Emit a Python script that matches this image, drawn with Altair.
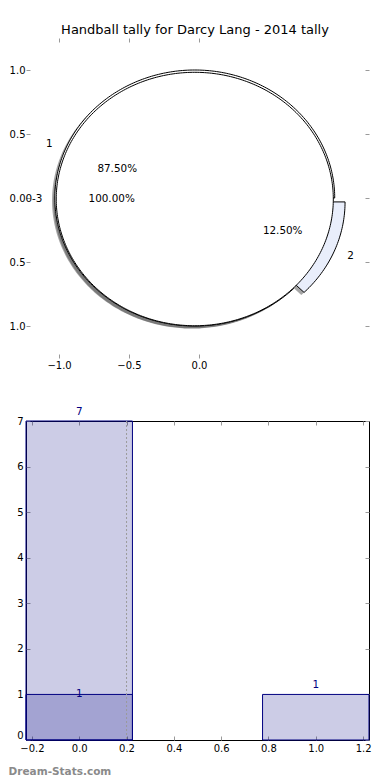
import altair as alt
import numpy as np
import pandas as pd

# ---------------- data ----------------
TITLE = "Handball tally for Darcy Lang - 2014 tally"
WATERMARK = "Dream-Stats.com"

outer_labels = ["1", "2"]
outer_counts = [7, 1]
inner_labels = ["0-3"]
inner_counts = [8]

hist_bins = [0, 1]
hist_counts = [7, 1]
overlay_bins = [0]
overlay_counts = [1]
marker_line = [0.2]

pie_x_ticks = [-1.0, -0.5, 0.0]
pie_y_ticks = [-1.0, -0.5, 0.0, 0.5, 1.0]
bar_x_ticks = [-0.2, 0.0, 0.2, 0.4, 0.6, 0.8, 1.0, 1.2]
bar_y_ticks = [0, 1, 2, 3, 4, 5, 6, 7]

# ---------------- style / geometry ----------------
FONT = "DejaVu Sans"
FS = 10.4          # text inside the plots
AFS = 10           # axis tick labels
NAVY = "#000080"
TICK = "#9a9a9a"
OUTER_FILLS = ["white", "#e9eefb"]
INNER_FILL = "white"
CENTER = (-0.03, 0.0)
INNER_SHIFT = (0.0, -0.008)
R_OUTER = 1.0
R_INNER = 0.99
EXPLODE = [0.0, 0.08]
SHADOW_OFF = (-0.02, -0.02)
LABEL_DIST = 1.1
PCT_DIST = 0.6
BAR_HALF = 0.225


def wedge(shape, t1, t2, r, cx, cy):
    n = max(int(abs(t2 - t1)) + 1, 3)
    ang = np.deg2rad(np.linspace(t1, t2, n))
    xs = list(cx + r * np.cos(ang))
    ys = list(cy + r * np.sin(ang))
    if abs(t2 - t1) < 360:
        xs = [cx] + xs + [cx]
        ys = [cy] + ys + [cy]
    return pd.DataFrame({"shape": shape, "i": range(len(xs)), "x": xs, "y": ys})


def build_pie(labels, counts, radius, explode, prefix, shift=(0.0, 0.0)):
    total = float(sum(counts))
    theta = 0.0
    shapes, shadows, lab_rows, pct_rows = [], [], [], []
    for k, (lab, cnt) in enumerate(zip(labels, counts)):
        span = 360.0 * cnt / total
        mid = np.deg2rad(theta + span / 2)
        ex = explode[k] if k < len(explode) else 0.0
        cx = CENTER[0] + shift[0] + ex * np.cos(mid)
        cy = CENTER[1] + shift[1] + ex * np.sin(mid)
        shapes.append(wedge(f"{prefix}{k}", theta, theta + span, radius, cx, cy))
        shadows.append(wedge(f"{prefix}s{k}", theta, theta + span, radius,
                             cx + SHADOW_OFF[0], cy + SHADOW_OFF[1]))
        lx = cx + LABEL_DIST * radius * np.cos(mid)
        ly = cy + LABEL_DIST * radius * np.sin(mid)
        lab_rows.append({"x": lx, "y": ly, "t": lab, "side": "L" if lx > 0 else "R"})
        pct_rows.append({"x": cx + PCT_DIST * radius * np.cos(mid),
                         "y": cy + PCT_DIST * radius * np.sin(mid),
                         "t": f"{100.0 * cnt / total:.2f}%"})
        theta += span
    return shapes, shadows, lab_rows, pct_rows


o_shapes, o_shadows, o_labs, o_pcts = build_pie(outer_labels, outer_counts, R_OUTER, EXPLODE, "o")
i_shapes, i_shadows, i_labs, i_pcts = build_pie(inner_labels, inner_counts, R_INNER, [0.0], "i",
                                                INNER_SHIFT)

shadow_df = pd.concat(o_shadows + i_shadows, ignore_index=True)
labels_df = pd.DataFrame(o_labs + i_labs + [dict(r, side="C") for r in (o_pcts + i_pcts)])


def axis(orient, values, labels=True, fmt=".1f", label_expr=None, pad=3, baseline=None):
    kw = dict(orient=orient, values=values, offset=-4, tickSize=4, tickColor=TICK,
              tickWidth=1, domain=False, grid=False, title=None, labels=labels,
              labelFont=FONT, labelFontSize=AFS, labelColor="black", labelPadding=pad,
              labelFlush=False, labelOverlap=False)
    if labels:
        kw["format"] = fmt
    if label_expr:
        kw["labelExpr"] = label_expr
    if baseline is not None:
        kw["labelBaseline"] = baseline
    return alt.Axis(**kw)


xs_top = alt.Scale(domain=[-1.236, 1.215], nice=False, zero=False)
ys_top = alt.Scale(domain=[-1.25, 1.25], nice=False, zero=False)

shadow_layer = alt.Chart(shadow_df).mark_line(
    fill="#4d4d4d", fillOpacity=0.5, strokeOpacity=0
).encode(
    x=alt.X("x:Q", scale=xs_top, axis=axis("bottom", pie_x_ticks, pad=2)),
    y=alt.Y("y:Q", scale=ys_top,
            axis=axis("left", pie_y_ticks, pad=1,
                      label_expr="format(abs(datum.value), '.1f')")),
    order="i:Q", detail="shape:N",
)

wedge_layers = []
for k, df in enumerate(o_shapes):
    wedge_layers.append(
        alt.Chart(df).mark_line(fill=OUTER_FILLS[k], stroke="black", strokeWidth=1)
        .encode(x=alt.X("x:Q", scale=xs_top, axis=None),
                y=alt.Y("y:Q", scale=ys_top, axis=None), order="i:Q")
    )
for df in i_shapes:
    wedge_layers.append(
        alt.Chart(df).mark_line(fill=INNER_FILL, stroke="black", strokeWidth=1)
        .encode(x=alt.X("x:Q", scale=xs_top, axis=None),
                y=alt.Y("y:Q", scale=ys_top, axis=None), order="i:Q")
    )


def pie_text(side, align):
    return alt.Chart(labels_df).transform_filter(f"datum.side == '{side}'").mark_text(
        align=align, baseline="middle", font=FONT, fontSize=FS, color="black"
    )


text_r = pie_text("R", "right").encode(
    x=alt.X("x:Q", scale=xs_top, axis=axis("top", pie_x_ticks, labels=False)),
    y=alt.Y("y:Q", scale=ys_top, axis=axis("right", pie_y_ticks, labels=False)),
    text="t:N",
)
text_l = pie_text("L", "left").encode(
    x=alt.X("x:Q", scale=xs_top, axis=None),
    y=alt.Y("y:Q", scale=ys_top, axis=None), text="t:N")
text_c = pie_text("C", "center").encode(
    x=alt.X("x:Q", scale=xs_top, axis=None),
    y=alt.Y("y:Q", scale=ys_top, axis=None), text="t:N")

top = alt.layer(shadow_layer, *wedge_layers, text_r, text_l, text_c).properties(
    width=343, height=320,
    title=alt.TitleParams(TITLE, font=FONT, fontSize=13, fontWeight="normal",
                          color="black", anchor="middle", dx=-2.5, offset=1),
)

# ---------------- bottom histogram ----------------
bars_df = pd.DataFrame({"bin": hist_bins, "count": hist_counts})
over_df = pd.DataFrame({"bin": overlay_bins, "count": overlay_counts})
line_df = pd.DataFrame({"v": marker_line})

xs_b = alt.Scale(domain=[-BAR_HALF, 1 + BAR_HALF], nice=False, zero=False)
ys_b = alt.Scale(domain=[0, 7], nice=False)


def bar_layer(df):
    return alt.Chart(df).transform_calculate(
        x0=f"datum.bin - {BAR_HALF}", x1=f"datum.bin + {BAR_HALF}"
    ).mark_bar(fill=NAVY, fillOpacity=0.2, stroke=NAVY, strokeWidth=1)


bars = bar_layer(bars_df).encode(
    x=alt.X("x0:Q", scale=xs_b, axis=axis("bottom", bar_x_ticks, pad=3)),
    x2="x1:Q",
    y=alt.Y("count:Q", scale=ys_b,
            axis=axis("left", bar_y_ticks, fmt="d", pad=3,
                      baseline={"condition": {"test": "datum.value == 0",
                                              "value": "bottom"},
                                "value": "middle"})),
    y2=alt.datum(0),
)
overlay = bar_layer(over_df).encode(
    x=alt.X("x0:Q", scale=xs_b, axis=None), x2="x1:Q",
    y=alt.Y("count:Q", scale=ys_b, axis=None), y2=alt.datum(0),
)
rule = alt.Chart(line_df).mark_rule(color="#9a9a9a", strokeDash=[2, 2], strokeWidth=1).encode(
    x=alt.X("v:Q", scale=xs_b, axis=None)
)
bar_text = alt.Chart(bars_df).mark_text(
    dy=-9, baseline="middle", font=FONT, fontSize=FS, color=NAVY
).encode(
    x=alt.X("bin:Q", scale=xs_b, axis=axis("top", bar_x_ticks, labels=False)),
    y=alt.Y("count:Q", scale=ys_b, axis=axis("right", bar_y_ticks, labels=False)),
    text="count:Q",
)
over_text = alt.Chart(over_df).mark_text(
    baseline="middle", font=FONT, fontSize=FS, color=NAVY
).encode(
    x=alt.X("bin:Q", scale=xs_b, axis=None),
    y=alt.Y("count:Q", scale=ys_b, axis=None),
    text="count:Q",
)

bottom = alt.layer(bars, overlay, rule, bar_text, over_text).properties(
    width=343, height=319,
    view=alt.ViewBackground(stroke="black", strokeWidth=1),
)

chart = alt.concat(top, bottom, columns=1, spacing=35).properties(
    padding={"left": 0, "top": 15, "right": 0, "bottom": 0},
    title=alt.TitleParams(WATERMARK, orient="bottom", anchor="start", font=FONT,
                          fontSize=10.5, fontWeight="bold", color="#8a8a8a", offset=13),
).configure_view(stroke="transparent")

chart.save("out.html", embed_options={"renderer": "svg", "actions": False})
